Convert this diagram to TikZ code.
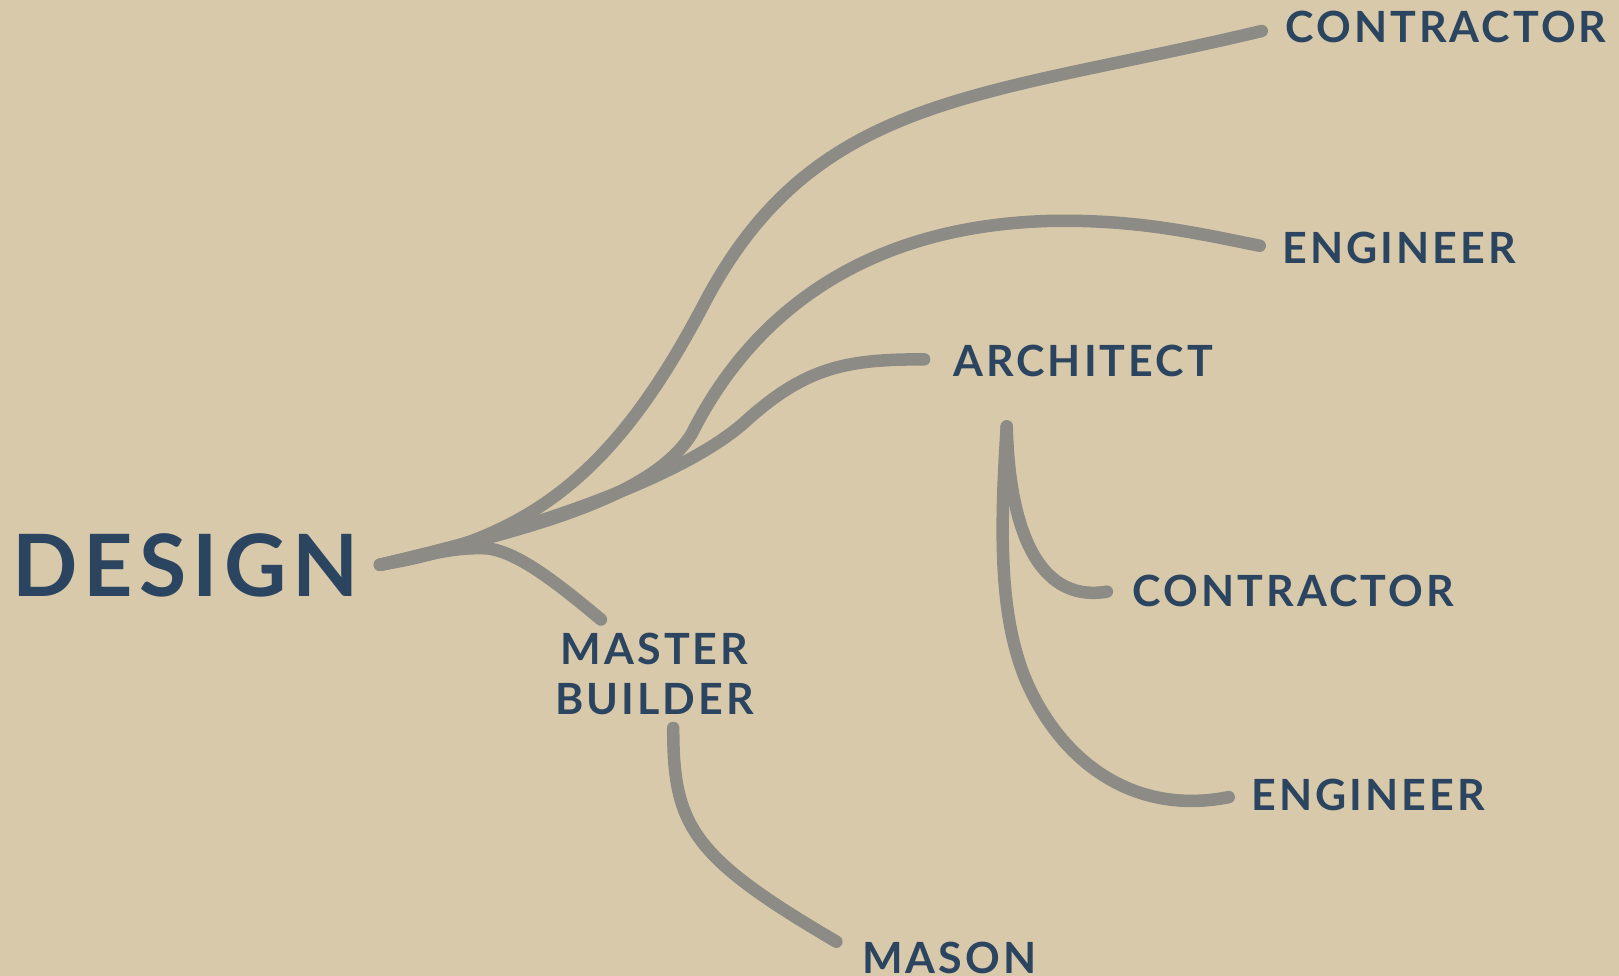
\documentclass[tikz,border=0pt]{standalone}
\usepackage{fontspec}
\setmainfont{Lato}[LetterSpace=7]
\definecolor{bg}{HTML}{D8C9AB}
\definecolor{ln}{HTML}{8C8B86}
\definecolor{tx}{HTML}{2B4560}
\begin{document}
\begin{tikzpicture}[x=1.0325pt,y=-1.0325pt,
  lbl/.style={anchor=west,inner sep=0pt,text=tx,font=\fontsize{43}{50}\selectfont\bfseries},
  big/.style={anchor=west,inner sep=0pt,text=tx,font=\fontsize{86}{90}\selectfont\bfseries},
  br/.style={draw=ln,line width=12.5pt,line cap=round,line join=round}]
\fill[bg] (0,0) rectangle (1568,945);
\useasboundingbox (0,0) rectangle (1568,945);
% labels
\node[big] (design) at (12,548) {DESIGN};
\node[lbl] (con1) at (1245,26) {CONTRACTOR};
\node[lbl] (eng1) at (1242,240) {ENGINEER};
\node[lbl] (arch) at (923,350) {ARCHITECT};
\node[lbl,align=center,anchor=center,font=\fontsize{43}{49.6}\selectfont\bfseries] (mb) at (634,653) {MASTER\\BUILDER};
\node[lbl] (con2) at (1097,572) {CONTRACTOR};
\node[lbl] (eng2) at (1212,770) {ENGINEER};
\node[lbl] (mason) at (835,928) {MASON};
% endpoints
\coordinate (s) at (368,547);
\coordinate (c1) at (1222,30);
\coordinate (e1) at (1220,238);
\coordinate (a1) at (895,348);
\coordinate (m1) at (582,600);
\coordinate (b1) at (652,705);
\coordinate (ms) at (810,912);
\coordinate (a2) at (975,413);
\coordinate (c2) at (1072,573);
\coordinate (e2) at (1190,772);
% branches
\draw[br] (s) .. controls (520,522) and (600,450) .. (682,294)
              .. controls (789,90) and (950,95) .. (c1);
\draw[br] (s) .. controls (500,515) and (630,485) .. (670,420)
              .. controls (720,320) and (820,220) .. (1015,214)
              .. controls (1100,212) and (1160,226) .. (e1);
\draw[br] (s) .. controls (520,512) and (660,462) .. (720,410)
              .. controls (780,355) and (820,348) .. (a1);
\draw[br] (s) .. controls (420,536) and (440,530) .. (470,531)
              .. controls (500,533) and (540,565) .. (m1);
\draw[br] (b1) .. controls (652,800) and (670,830) .. (ms);
\draw[br] (a2) .. controls (977,500) and (1000,585) .. (c2);
\draw[br] (a2) .. controls (968,520) and (968,600) .. (995,662)
               .. controls (1030,740) and (1100,790) .. (e2);
\end{tikzpicture}
\end{document}
